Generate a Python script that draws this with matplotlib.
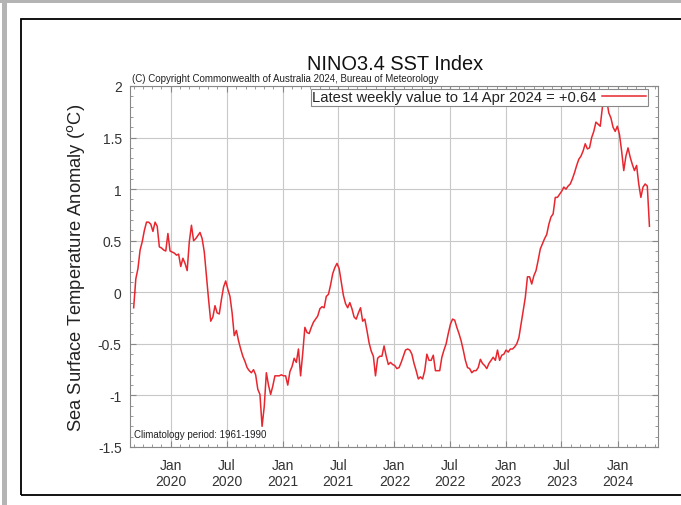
#!/usr/bin/env python3
"""Weekly NINO3.4 sea surface temperature anomaly, Sep 2019 to Apr 2024."""

import matplotlib

matplotlib.use("Agg")
import matplotlib.dates as mdates
import matplotlib.pyplot as plt
import numpy as np
import pandas as pd
from matplotlib.patches import Rectangle

plt.rcParams["font.family"] = ["Liberation Sans", "DejaVu Sans"]

# weekly values (weeks ending Sunday), first week ending 1 Sep 2019
first_week = "2019-09-01"
last_week = "2024-04-14"
anomaly = [
    -0.15, 0.13, 0.23, 0.41, 0.49, 0.60, 0.68, 0.68, 0.66, 0.59,
    0.68, 0.64, 0.44, 0.43, 0.41, 0.40, 0.57, 0.40, 0.39, 0.38,
    0.36, 0.37, 0.25, 0.33, 0.28, 0.21, 0.49, 0.65, 0.50, 0.52,
    0.55, 0.58, 0.52, 0.39, 0.16, -0.07, -0.28, -0.24, -0.13, -0.20,
    -0.21, -0.07, 0.05, 0.11, 0.03, -0.04, -0.20, -0.42, -0.37, -0.47,
    -0.55, -0.62, -0.67, -0.73, -0.76, -0.78, -0.75, -0.80, -0.94, -0.99,
    -1.30, -1.11, -0.78, -0.90, -0.99, -0.91, -0.81, -0.81, -0.81, -0.80,
    -0.81, -0.81, -0.90, -0.77, -0.72, -0.64, -0.68, -0.55, -0.81, -0.59,
    -0.34, -0.39, -0.40, -0.34, -0.29, -0.26, -0.23, -0.16, -0.14, -0.15,
    -0.04, -0.02, 0.07, 0.18, 0.24, 0.28, 0.23, 0.10, -0.03, -0.11,
    -0.15, -0.10, -0.16, -0.24, -0.26, -0.20, -0.15, -0.28, -0.26, -0.37,
    -0.49, -0.57, -0.62, -0.81, -0.64, -0.62, -0.62, -0.52, -0.62, -0.70,
    -0.68, -0.70, -0.71, -0.74, -0.73, -0.68, -0.62, -0.56, -0.55, -0.56,
    -0.60, -0.69, -0.76, -0.84, -0.82, -0.84, -0.76, -0.60, -0.66, -0.66,
    -0.61, -0.76, -0.76, -0.76, -0.63, -0.56, -0.50, -0.40, -0.31, -0.26,
    -0.27, -0.34, -0.40, -0.47, -0.56, -0.66, -0.73, -0.74, -0.78, -0.76,
    -0.76, -0.73, -0.65, -0.69, -0.71, -0.74, -0.69, -0.66, -0.63, -0.66,
    -0.56, -0.66, -0.61, -0.60, -0.56, -0.58, -0.55, -0.55, -0.53, -0.50,
    -0.44, -0.31, -0.18, -0.05, 0.15, 0.15, 0.08, 0.16, 0.21, 0.31,
    0.42, 0.47, 0.52, 0.56, 0.66, 0.73, 0.76, 0.92, 0.92, 0.95,
    0.98, 1.02, 1.00, 1.03, 1.05, 1.10, 1.16, 1.23, 1.29, 1.32,
    1.37, 1.44, 1.39, 1.40, 1.50, 1.56, 1.65, 1.63, 1.61, 1.79,
    1.93, 1.87, 1.74, 1.69, 1.60, 1.56, 1.61, 1.53, 1.37, 1.18,
    1.32, 1.40, 1.31, 1.24, 1.18, 1.23, 1.05, 0.92, 1.02, 1.05,
    1.03, 0.64,
]
latest_label = "Latest weekly value to 14 Apr 2024 = +0.64"
y_ticks = [-1.5, -1, -0.5, 0, 0.5, 1, 1.5, 2]
y_tick_labels = ["-1.5", "-1", "-0.5", "0", "0.5", "1", "1.5", "2"]

weeks = pd.date_range(first_week, last_week, freq="7D")

W, H = 681, 506
fig = plt.figure(figsize=(W / 100, H / 100), dpi=100)

# page decoration: grey strips and the black panel outline
fig.patches.append(Rectangle((0, 1 - 4 / H), 1, 4 / H, transform=fig.transFigure,
                             facecolor="#b4b4b4", edgecolor="none"))
fig.patches.append(Rectangle((2 / W, 0), 5 / W, 1, transform=fig.transFigure,
                             facecolor="#b4b4b4", edgecolor="none"))
fig.patches.append(Rectangle((21 / W, 1 - 496 / H), 1.0, (496 - 20) / H,
                             transform=fig.transFigure, facecolor="none",
                             edgecolor="black", lw=1.3))

ax = fig.add_axes([130 / W, 1 - 448 / H, 528 / W, 361 / H])
ax.plot(weeks, anomaly, color="#e8262e", lw=1.1, label=latest_label)

ax.set_xlim(pd.Timestamp("2019-08-20"), pd.Timestamp("2024-05-12"))
ax.set_ylim(-1.5, 2)
ax.set_yticks(y_ticks)
ax.set_yticklabels(y_tick_labels)
ax.yaxis.set_minor_locator(matplotlib.ticker.MultipleLocator(0.1))
ax.xaxis.set_major_locator(mdates.MonthLocator(bymonth=[1, 7]))
ax.xaxis.set_minor_locator(mdates.MonthLocator())
ax.xaxis.set_major_formatter(mdates.DateFormatter("%b\n%Y"))

ax.grid(True, which="major", color="#c8c8c8", lw=0.8)
ax.tick_params(which="both", direction="in", top=True, right=True,
               color="#888888", labelcolor="#333333", labelsize=10)
ax.tick_params(which="major", length=4, pad=6)
ax.tick_params(which="minor", length=2.5)
ax.tick_params(axis="x", which="major", pad=8)
for spine in ax.spines.values():
    spine.set_color("#888888")
    spine.set_linewidth(0.8)

ax.set_ylabel("Sea Surface Temperature Anomaly ($^{\\mathrm{o}}$C)", fontsize=13.2,
              labelpad=8, color="#222222")
fig.text(395 / W, 1 - 65 / H, "NINO3.4 SST Index", ha="center", va="center",
         fontsize=14.4, color="#111111")
fig.text(132 / W, 1 - 79.5 / H,
         "(C) Copyright Commonwealth of Australia 2024, Bureau of Meteorology",
         ha="left", va="center", fontsize=7.0, color="#222222")
ax.text(0.008, 0.022, "Climatology period: 1961-1990", transform=ax.transAxes,
        ha="left", va="bottom", fontsize=7.0, color="#222222")

leg = ax.legend(loc="upper right", bbox_to_anchor=(0.981, 0.992), borderaxespad=0,
                markerfirst=False, fancybox=False, fontsize=10.6, handlelength=3.0,
                handletextpad=0.4, borderpad=0.1, framealpha=1)
leg.get_frame().set_edgecolor("#888888")
leg.get_frame().set_linewidth(0.8)
for text in leg.get_texts():
    text.set_color("#222222")

fig.savefig("out.png", dpi=100)
